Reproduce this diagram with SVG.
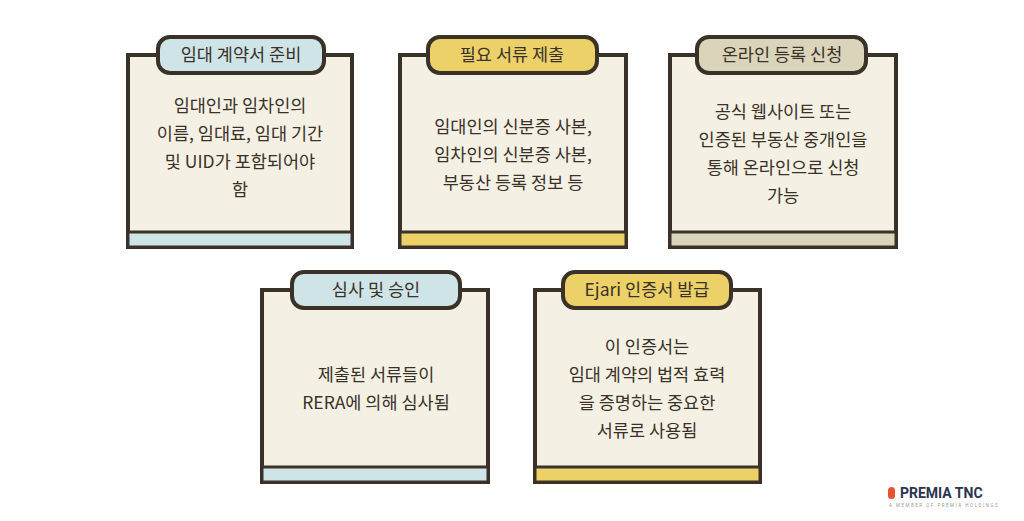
<svg xmlns="http://www.w3.org/2000/svg" width="1024" height="521" viewBox="0 0 1024 521">
<style>
.card{fill:#f4f0e4;stroke:#3a3128;stroke-width:4}
.band{stroke:#3a3128;stroke-width:3}
.tab{stroke:#3a3128;stroke-width:4}
.t{font-family:"Noto Sans CJK KR","Noto Sans",sans-serif;fill:#3a3128;text-anchor:middle}
.h{font-size:17.5px}
.b{font-size:17.5px}
.blue{fill:#cfe4e6}.yel{fill:#ecd068}.beige{fill:#dad4bb}
</style>
<rect width="1024" height="521" fill="#ffffff"/>
<g id="n1">
<rect class="card" x="128" y="55" width="224" height="192"/>
<rect class="band blue" x="128" y="232" width="224" height="15"/>
<rect class="tab blue" x="158" y="37" width="166" height="36" rx="12"/>
<text class="t h" x="241" y="61">임대 계약서 준비</text>
<text class="t b" x="240" y="112">임대인과 임차인의</text>
<text class="t b" x="240" y="140">이름, 임대료, 임대 기간</text>
<text class="t b" x="240" y="168">및 UID가 포함되어야</text>
<text class="t b" x="240" y="196">함</text>
</g>
<g id="n2">
<rect class="card" x="400" y="55" width="226" height="192"/>
<rect class="band yel" x="400" y="232" width="226" height="15"/>
<rect class="tab yel" x="428" y="37" width="169" height="36" rx="12"/>
<text class="t h" x="512" y="61">필요 서류 제출</text>
<text class="t b" x="513" y="133">임대인의 신분증 사본,</text>
<text class="t b" x="513" y="161">임차인의 신분증 사본,</text>
<text class="t b" x="513" y="189">부동산 등록 정보 등</text>
</g>
<g id="n3">
<rect class="card" x="670" y="55" width="226" height="192"/>
<rect class="band beige" x="670" y="232" width="226" height="15"/>
<rect class="tab beige" x="697" y="37" width="169" height="36" rx="12"/>
<text class="t h" x="782" y="61">온라인 등록 신청</text>
<text class="t b" x="783" y="118">공식 웹사이트 또는</text>
<text class="t b" x="783" y="146">인증된 부동산 중개인을</text>
<text class="t b" x="783" y="174">통해 온라인으로 신청</text>
<text class="t b" x="783" y="202">가능</text>
</g>
<g id="n4">
<rect class="card" x="262" y="290" width="226" height="192"/>
<rect class="band blue" x="262" y="467" width="226" height="15"/>
<rect class="tab blue" x="292" y="272" width="168" height="36" rx="12"/>
<text class="t h" x="376" y="296">심사 및 승인</text>
<text class="t b" x="376" y="381">제출된 서류들이</text>
<text class="t b" x="376" y="409">RERA에 의해 심사됨</text>
</g>
<g id="n5">
<rect class="card" x="535" y="290" width="225" height="192"/>
<rect class="band yel" x="535" y="467" width="225" height="15"/>
<rect class="tab yel" x="563" y="272" width="168" height="36" rx="12"/>
<text class="t h" x="647" y="296">Ejari 인증서 발급</text>
<text class="t b" x="647" y="353">이 인증서는</text>
<text class="t b" x="647" y="381">임대 계약의 법적 효력</text>
<text class="t b" x="647" y="409">을 증명하는 중요한</text>
<text class="t b" x="647" y="437">서류로 사용됨</text>
</g>
<g id="connectors"></g>
<g id="logo">
<rect x="888" y="487" width="7" height="12" rx="3.5" fill="#e8532f"/>
<text x="900" y="498" font-family="Roboto,sans-serif" font-weight="bold" font-size="14" fill="#2a3550">PREMIA TNC</text>
<text x="889" y="507" font-family="Roboto,sans-serif" font-size="4.5" fill="#999" letter-spacing="1.5">A MEMBER OF PREMIA HOLDINGS</text>
</g>
</svg>
